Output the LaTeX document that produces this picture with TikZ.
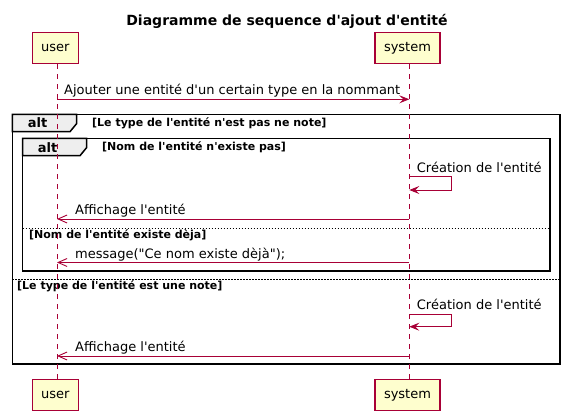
\documentclass[tikz,border=0pt]{standalone}
\usepackage{fontspec}
\setmainfont{DejaVu Sans}[Ligatures=TeXOff]
\usetikzlibrary{arrows.meta,calc}
\definecolor{umlred}{HTML}{A80036}
\definecolor{umlfill}{HTML}{FEFECE}
\definecolor{tabfill}{HTML}{EEEEEE}
\tikzset{
  actorbox/.style={draw=umlred,fill=umlfill,line width=1.1pt,minimum width=46pt,minimum height=31pt,inner sep=0pt,font=\fontsize{13}{15}\selectfont},
  lifeline/.style={draw=umlred,line width=0.9pt,dash pattern=on 5pt off 5pt},
  syncmsg/.style={draw=umlred,line width=0.9pt,-{Stealth[length=10pt,width=8pt,inset=4pt]}},
  retmsg/.style={draw=umlred,line width=0.9pt,-{Straight Barb[length=9pt,width=8pt,line width=0.9pt]}},
  msgtext/.style={anchor=base west,inner sep=0pt,font=\fontsize{13}{15}\selectfont},
  frameline/.style={draw=black,line width=1.5pt},
  sepline/.style={draw=black,line width=0.8pt,dash pattern=on 1.5pt off 1.5pt},
  altlabel/.style={inner sep=0pt,font=\bfseries\fontsize{13}{15}\selectfont},
  condtext/.style={anchor=west,inner sep=0pt,font=\bfseries\fontsize{11}{13}\selectfont},
  titletext/.style={inner sep=0pt,anchor=base,font=\bfseries\fontsize{14}{16}\selectfont}
}
\begin{document}
\begin{tikzpicture}[x=1pt,y=-1pt]
\useasboundingbox (0,0) rectangle (568,419);
\fill[white] (0,0) rectangle (568,419);
% title
\node[titletext] (title) at (287,25.5) {Diagramme de sequence d'ajout d'entité};
% frames
\draw[frameline] (12.3,114.3) rectangle (560,364.2);
\filldraw[frameline,fill=tabfill] (12.3,114.3) -- (76.7,114.3) -- (76.7,123.5) -- (70,131.7) -- (12.3,131.7) -- cycle;
\node[altlabel] (altouter) at (37.5,123) {alt};
\node[condtext] (condA) at (92,123) {[Le type de l'entité n'est pas ne note]};
\draw[frameline] (22.7,138.3) rectangle (550,271);
\filldraw[frameline,fill=tabfill] (22.7,138.3) -- (86.7,138.3) -- (86.7,147.5) -- (80,155.7) -- (22.7,155.7) -- cycle;
\node[altlabel] (altinner) at (47.5,147.7) {alt};
\node[condtext] (condB) at (102,147.7) {[Nom de l'entité n'existe pas]};
\draw[sepline] (22.7,228.5) -- (550,228.5);
\node[condtext] (condC) at (29,235.3) {[Nom de l'entité existe dèja]};
\draw[sepline] (12.3,279.2) -- (560,279.2);
\node[condtext] (condD) at (17,285.8) {[Le type de l'entité est une note]};
% participants
\node[actorbox] (utop) at (55.3,48.4) {user};
\node[actorbox,minimum width=65pt] (stop) at (407.5,48.4) {system};
\node[actorbox] (ubot) at (55.3,395.4) {user};
\node[actorbox,minimum width=65pt] (sbot) at (407.5,395.4) {system};
% lifelines
\draw[lifeline] ($(utop.south)+(1.7,0)$) -- ($(ubot.north)+(1.7,0)$);
\draw[lifeline] ($(stop.south)+(1.8,0)$) -- ($(sbot.north)+(1.8,0)$);
% message anchor points
\coordinate (u1) at (57,99.3);   \coordinate (s1) at (409.3,99.3);
\coordinate (sa1) at (409.3,176.7); \coordinate (sb1) at (451.3,176.7);
\coordinate (sc1) at (451.3,190); \coordinate (sd1) at (409.3,190);
\coordinate (s2) at (409.3,219); \coordinate (u2) at (57,219);
\coordinate (s3) at (409.3,262.5); \coordinate (u3) at (57,262.5);
\coordinate (sa2) at (409.3,314.3); \coordinate (sb2) at (451.3,314.3);
\coordinate (sc2) at (451.3,326.7); \coordinate (sd2) at (409.3,326.7);
\coordinate (s4) at (409.3,356); \coordinate (u4) at (57,356);
% messages
\draw[syncmsg] (u1) -- (s1);
\node[msgtext] (m1) at (64,95) {Ajouter une entité d'un certain type en la nommant};
\draw[syncmsg] (sa1) -- (sb1) -- (sc1) -- (sd1);
\node[msgtext] (m2) at (416.7,172.3) {Création de l'entité};
\draw[retmsg] (s2) -- (u2);
\node[msgtext] (m3) at (75,215) {Affichage l'entité};
\draw[retmsg] (s3) -- (u3);
\node[msgtext] (m4) at (75,258.5) {message("Ce nom existe dèjà");};
\draw[syncmsg] (sa2) -- (sb2) -- (sc2) -- (sd2);
\node[msgtext] (m5) at (416.7,310) {Création de l'entité};
\draw[retmsg] (s4) -- (u4);
\node[msgtext] (m6) at (75,352) {Affichage l'entité};
\end{tikzpicture}
\end{document}
